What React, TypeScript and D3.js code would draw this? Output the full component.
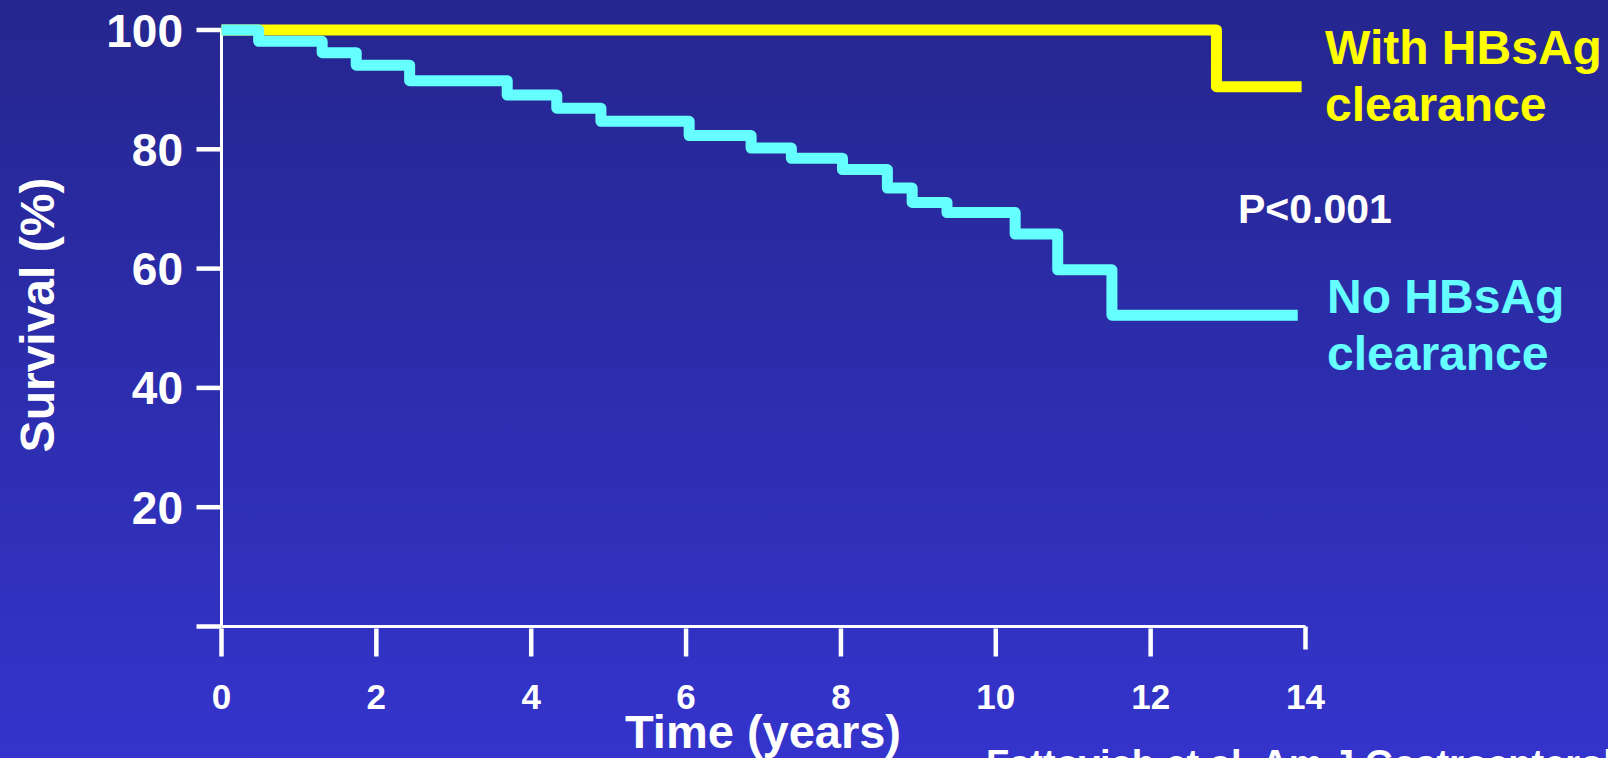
import React from "react";
import * as d3 from "d3";

// Kaplan–Meier survival by HBsAg clearance status
const withClearanceTimes = [0, 12.85, 13.95];
const withClearanceSurvival = [100, 90.5, 90.5];

const noClearanceTimes = [
  0, 0.48, 1.3, 1.74, 2.43, 3.69, 4.33, 4.9, 6.04, 6.84, 7.36, 8.02, 8.6, 8.92,
  9.37, 10.25, 10.8, 11.5, 13.9,
];
const noClearanceSurvival = [
  100, 98.1, 96.2, 94.1, 91.5, 89.1, 86.9, 84.7, 82.3, 80.2, 78.5, 76.6, 73.5,
  71.1, 69.4, 65.8, 59.8, 52.2, 52.2,
];

const xTickValues = [0, 2, 4, 6, 8, 10, 12, 14];
const yTickValues = [0, 20, 40, 60, 80, 100];

const W = 1608;
const H = 758;
const FONT = "'Liberation Sans', Arial, Helvetica, sans-serif";

export default function App() {
  const x = d3.scaleLinear().domain([0, 14]).range([221.5, 1305.5]);
  const y = d3.scaleLinear().domain([0, 100]).range([626.5, 30]);

  const toPoints = (ts: number[], vs: number[]) =>
    ts.map((t, i) => [t, vs[i]] as [number, number]);

  const line = d3
    .line<[number, number]>()
    .x((d) => x(d[0]))
    .y((d) => y(d[1]))
    .curve(d3.curveStepAfter);

  const withPath = line(toPoints(withClearanceTimes, withClearanceSurvival)) || "";
  const noPath = line(toPoints(noClearanceTimes, noClearanceSurvival)) || "";

  return (
    <svg
      width={W}
      height={H}
      viewBox={`0 0 ${W} ${H}`}
      style={{ position: "absolute", left: 0, top: 0, display: "block" }}
    >
      <defs>
        <linearGradient id="bg" x1="0" y1="0" x2="0" y2="1">
          <stop offset="0" stopColor="#25268e" />
          <stop offset="1" stopColor="#3434cc" />
        </linearGradient>
      </defs>
      <rect x={0} y={0} width={W} height={H} fill="url(#bg)" />

      {/* axes */}
      <line x1={x(0)} x2={x(0)} y1={y(100)} y2={y(0)} stroke="#fff" strokeWidth={3} />
      <line x1={x(0)} x2={x(14)} y1={y(0)} y2={y(0)} stroke="#fff" strokeWidth={3} />

      {yTickValues.map((v) => (
        <g key={`yt${v}`}>
          <line
            x1={x(0) - 25}
            x2={x(0)}
            y1={y(v)}
            y2={y(v)}
            stroke="#fff"
            strokeWidth={4.5}
          />
          {v > 0 && (
            <text
              x={183}
              y={y(v) + 16.5}
              textAnchor="end"
              fill="#fff"
              fontFamily={FONT}
              fontWeight="bold"
              fontSize={46}
            >
              {v}
            </text>
          )}
        </g>
      ))}

      {xTickValues.map((t) => (
        <g key={`xt${t}`}>
          <line
            x1={x(t)}
            x2={x(t)}
            y1={y(0) + (t === 14 ? 0 : 2)}
            y2={y(0) + (t === 14 ? 23 : 30)}
            stroke="#fff"
            strokeWidth={4.5}
          />
          <text
            x={x(t)}
            y={709}
            textAnchor="middle"
            fill="#fff"
            fontFamily={FONT}
            fontWeight="bold"
            fontSize={35}
          >
            {t}
          </text>
        </g>
      ))}

      <text
        transform="translate(54,315) rotate(-90)"
        textAnchor="middle"
        fill="#fff"
        fontFamily={FONT}
        fontWeight="bold"
        fontSize={48}
      >
        Survival (%)
      </text>
      <text
        x={763}
        y={748}
        textAnchor="middle"
        fill="#fff"
        fontFamily={FONT}
        fontWeight="bold"
        fontSize={47}
      >
        Time (years)
      </text>

      {/* survival curves */}
      <path
        d={withPath}
        fill="none"
        stroke="#ffff00"
        strokeWidth={11}
        strokeLinejoin="round"
      />
      <path
        d={noPath}
        fill="none"
        stroke="#66ffff"
        strokeWidth={11}
        strokeLinejoin="round"
      />

      {/* labels */}
      <g fontFamily={FONT} fontWeight="bold" fontSize={48}>
        <text x={1325} y={64} fill="#ffff00">With HBsAg</text>
        <text x={1325} y={121} fill="#ffff00">clearance</text>
        <text x={1327} y={313} fill="#66ffff">No HBsAg</text>
        <text x={1327} y={370} fill="#66ffff">clearance</text>
      </g>
      <text
        x={1238}
        y={223}
        fill="#fff"
        fontFamily={FONT}
        fontWeight="bold"
        fontSize={41}
      >
        P&lt;0.001
      </text>

      <text
        x={986}
        y={777}
        fill="#fff"
        fontFamily={FONT}
        fontWeight="bold"
        fontSize={38}
      >
        Fattovich et al. Am J Gastroenterol
      </text>
    </svg>
  );
}
